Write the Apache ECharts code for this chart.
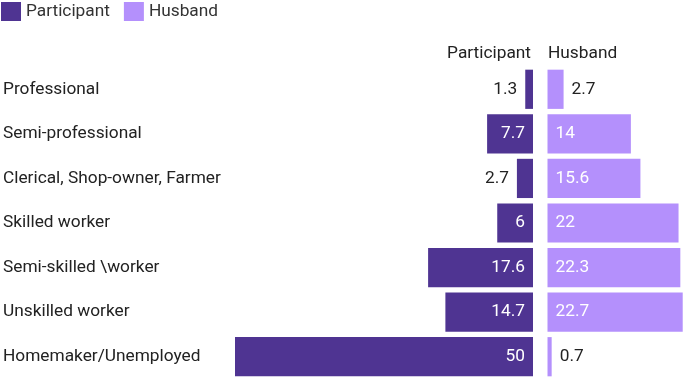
<!DOCTYPE html>
<html><head><meta charset="utf-8">
<script src="https://cdn.jsdelivr.net/npm/echarts@6/dist/echarts.min.js"></script>
<style>html,body{margin:0;padding:0;background:#fff}#c{width:685px;height:379px}</style>
</head><body><div id="c"></div>
<script>
const categories = ["Professional","Semi-professional","Clerical, Shop-owner, Farmer","Skilled worker","Semi-skilled \\worker","Unskilled worker","Homemaker/Unemployed"];
const participant = [1.3, 7.7, 2.7, 6, 17.6, 14.7, 50];
const husband = [2.7, 14, 15.6, 22, 22.3, 22.7, 0.7];
const seriesNames = ["Participant","Husband"];

const C1 = '#4f3492', C2 = '#b490fc';
const font = 'Roboto, sans-serif';
const FS = 17.3;
function labelled(vals, inPos, outPos) {
  return vals.map(v => {
    const inside = v >= 5;
    return {
      value: v,
      label: {
        show: true, position: inside ? inPos : outPos, distance: 8,
        color: inside ? '#ffffff' : '#222222', fontSize: FS, fontFamily: font
      }
    };
  });
}
const chart = echarts.init(document.getElementById('c'));
chart.setOption({
  animation: false,
  legend: {
    left: 1, top: 2, padding: 0, icon: 'rect', itemWidth: 20, itemHeight: 19, itemGap: 14,
    textStyle: { fontSize: FS, fontFamily: font, color: '#333' },
    data: seriesNames
  },
  grid: [
    { left: 235, width: 298, top: 67, height: 314 },
    { left: 547.5, width: 137, top: 67, height: 314 }
  ],
  xAxis: [
    { gridIndex: 0, type: 'value', min: 0, max: 50, inverse: true, show: false },
    { gridIndex: 1, type: 'value', min: 0, max: 23, show: false }
  ],
  yAxis: [
    { gridIndex: 0, type: 'category', data: categories, inverse: true,
      axisLine: { show: false }, axisTick: { show: false },
      axisLabel: { align: 'left', margin: 232, fontSize: FS, fontFamily: font, color: '#222' } },
    { gridIndex: 1, type: 'category', data: categories, inverse: true, show: false }
  ],
  graphic: [
    { type: 'text', right: 154, top: 45, style: { text: seriesNames[0], fontSize: FS, fontFamily: font, fill: '#222' } },
    { type: 'text', left: 548, top: 45, style: { text: seriesNames[1], fontSize: FS, fontFamily: font, fill: '#222' } }
  ],
  series: [
    { name: seriesNames[0], type: 'bar', xAxisIndex: 0, yAxisIndex: 0, barCategoryGap: '12%',
      itemStyle: { color: C1 }, data: labelled(participant, 'insideRight', 'left') },
    { name: seriesNames[1], type: 'bar', xAxisIndex: 1, yAxisIndex: 1, barCategoryGap: '12%',
      itemStyle: { color: C2 }, data: labelled(husband, 'insideLeft', 'right') }
  ]
});
</script></body></html>
